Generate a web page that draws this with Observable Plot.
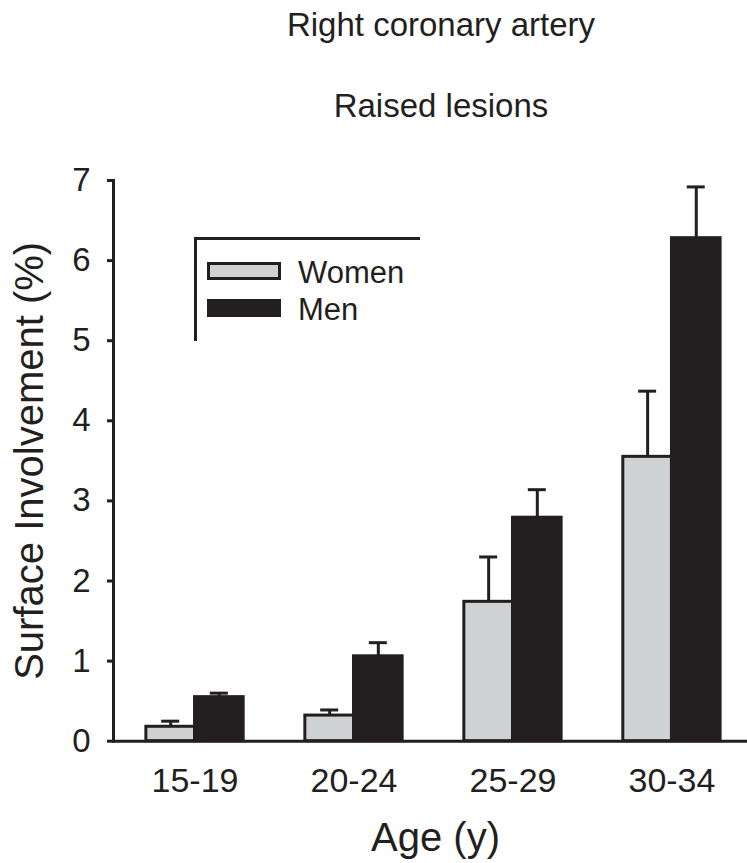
<!DOCTYPE html>
<html>
<head>
<meta charset="utf-8">
<script src="https://cdn.jsdelivr.net/npm/d3@7"></script>
<script src="https://cdn.jsdelivr.net/npm/@observablehq/plot@0.6"></script>
<style>
  html, body { margin: 0; padding: 0; background: #fff; }
  body { font-family: "Liberation Sans", Arial, Helvetica, sans-serif; color: #231f20; }
  #page { position: relative; width: 747px; height: 863px; overflow: hidden; }
  .t { position: absolute; white-space: nowrap; line-height: 1; }
  #title { top: 8px; left: 0; width: 882px; text-align: center; font-size: 33px; }
  #subtitle { top: 89px; left: 0; width: 882px; text-align: center; font-size: 33px; }
  #chart { position: absolute; top: 150px; left: 0; }
  .leg-line { position: absolute; background: #231f20; }
  .sw { position: absolute; box-sizing: border-box; }
  .lt { position: absolute; font-size: 31px; line-height: 1; white-space: nowrap; }
</style>
</head>
<body>
<div id="page">
  <div id="title" class="t">Right coronary artery</div>
  <div id="subtitle" class="t">Raised lesions</div>
  <div id="chart"></div>
  <div id="legend"></div>
</div>
<script>
// ---- data ----
const ages = ["15-19", "20-24", "25-29", "30-34"];
const women = [0.18, 0.32, 1.74, 3.55];
const womenErr = [0.07, 0.07, 0.56, 0.82];
const men = [0.55, 1.06, 2.79, 6.28];
const menErr = [0.05, 0.17, 0.35, 0.64];
const yTicks = [0, 1, 2, 3, 4, 5, 6, 7];
const series = ["Women", "Men"];

// ---- styling ----
const INK = "#231f20";
const GREY = "#d0d1d3";
const W = 747, H = 713, ML = 113, MR = 0, MT = 30, MB = 122.3;
const PI = 0.388, PO = 0.188, AL = 0.55;

const rows = ages.map((a, i) => ({
  age: a,
  women: women[i], womenTop: women[i] + womenErr[i],
  men: men[i], menTop: men[i] + menErr[i]
}));

const bw = d3.scaleBand().domain(ages).range([ML, W - MR])
  .paddingInner(PI).paddingOuter(PO).align(AL).bandwidth();
const cap = 9;

const chart = Plot.plot({
  width: W, height: H,
  marginLeft: ML, marginRight: MR, marginTop: MT, marginBottom: MB,
  style: { fontFamily: '"Liberation Sans", Arial, Helvetica, sans-serif', color: INK, background: "white", overflow: "visible" },
  x: { type: "band", domain: ages, paddingInner: PI, paddingOuter: PO, align: AL, round: false },
  y: { domain: [0, 7] },
  marks: [
    Plot.barY(rows, { x: "age", y: "women", fill: GREY, stroke: INK, strokeWidth: 3, insetRight: bw / 2 }),
    Plot.barY(rows, { x: "age", y: "men", fill: INK, stroke: INK, strokeWidth: 3, insetLeft: bw / 2 }),
    Plot.ruleX(rows, { x: "age", y1: "women", y2: "womenTop", dx: -bw / 4, stroke: INK, strokeWidth: 3 }),
    Plot.tickY(rows, { x: "age", y: "womenTop", insetLeft: bw / 4 - cap, insetRight: 3 * bw / 4 - cap, stroke: INK, strokeWidth: 3 }),
    Plot.ruleX(rows, { x: "age", y1: "men", y2: "menTop", dx: bw / 4, stroke: INK, strokeWidth: 3 }),
    Plot.tickY(rows, { x: "age", y: "menTop", insetLeft: 3 * bw / 4 - cap, insetRight: bw / 4 - cap, stroke: INK, strokeWidth: 3 }),
    Plot.ruleY([0], { stroke: INK, strokeWidth: 3 }),
    Plot.frame({ anchor: "left", stroke: INK, strokeWidth: 3 }),
    Plot.axisY({ ticks: yTicks, tickSize: 6, tickPadding: 17, fontSize: 33, stroke: INK, strokeWidth: 3, label: null, tickFormat: d => String(d) }),
    Plot.axisX({ tickSize: 0, tickPadding: 27, fontSize: 34, label: null }),
    Plot.text(["Surface Involvement (%)"], { text: d => d, frameAnchor: "left", textAnchor: "middle", lineAnchor: "middle", rotate: -90, dx: -83, fontSize: 40, fill: INK }),
    Plot.text(["Age (y)"], { text: d => d, frameAnchor: "bottom", textAnchor: "middle", lineAnchor: "top", dy: 81, dx: 5, fontSize: 40, fill: INK })
  ]
});
document.getElementById("chart").appendChild(chart);

// ---- legend (inside plot area, open box as in original) ----
const leg = document.getElementById("legend");
function add(tag, cls, css, text) {
  const e = document.createElement(tag);
  e.className = cls;
  Object.assign(e.style, css);
  if (text) e.textContent = text;
  leg.appendChild(e);
  return e;
}
add("div", "leg-line", { left: "194px", top: "237px", width: "226px", height: "3px" });
add("div", "leg-line", { left: "194px", top: "237px", width: "3px", height: "104px" });
const sw = [
  { top: 262, fill: GREY, border: `3px solid ${INK}` },
  { top: 299, fill: INK, border: `3px solid ${INK}` }
];
series.forEach((s, i) => {
  add("div", "sw", { left: "207px", top: sw[i].top + "px", width: "74px", height: "18px", background: sw[i].fill, border: sw[i].border });
  add("div", "lt", { left: "298px", top: (i === 0 ? 257 : 294) + "px" }, s);
});
</script>
</body>
</html>
